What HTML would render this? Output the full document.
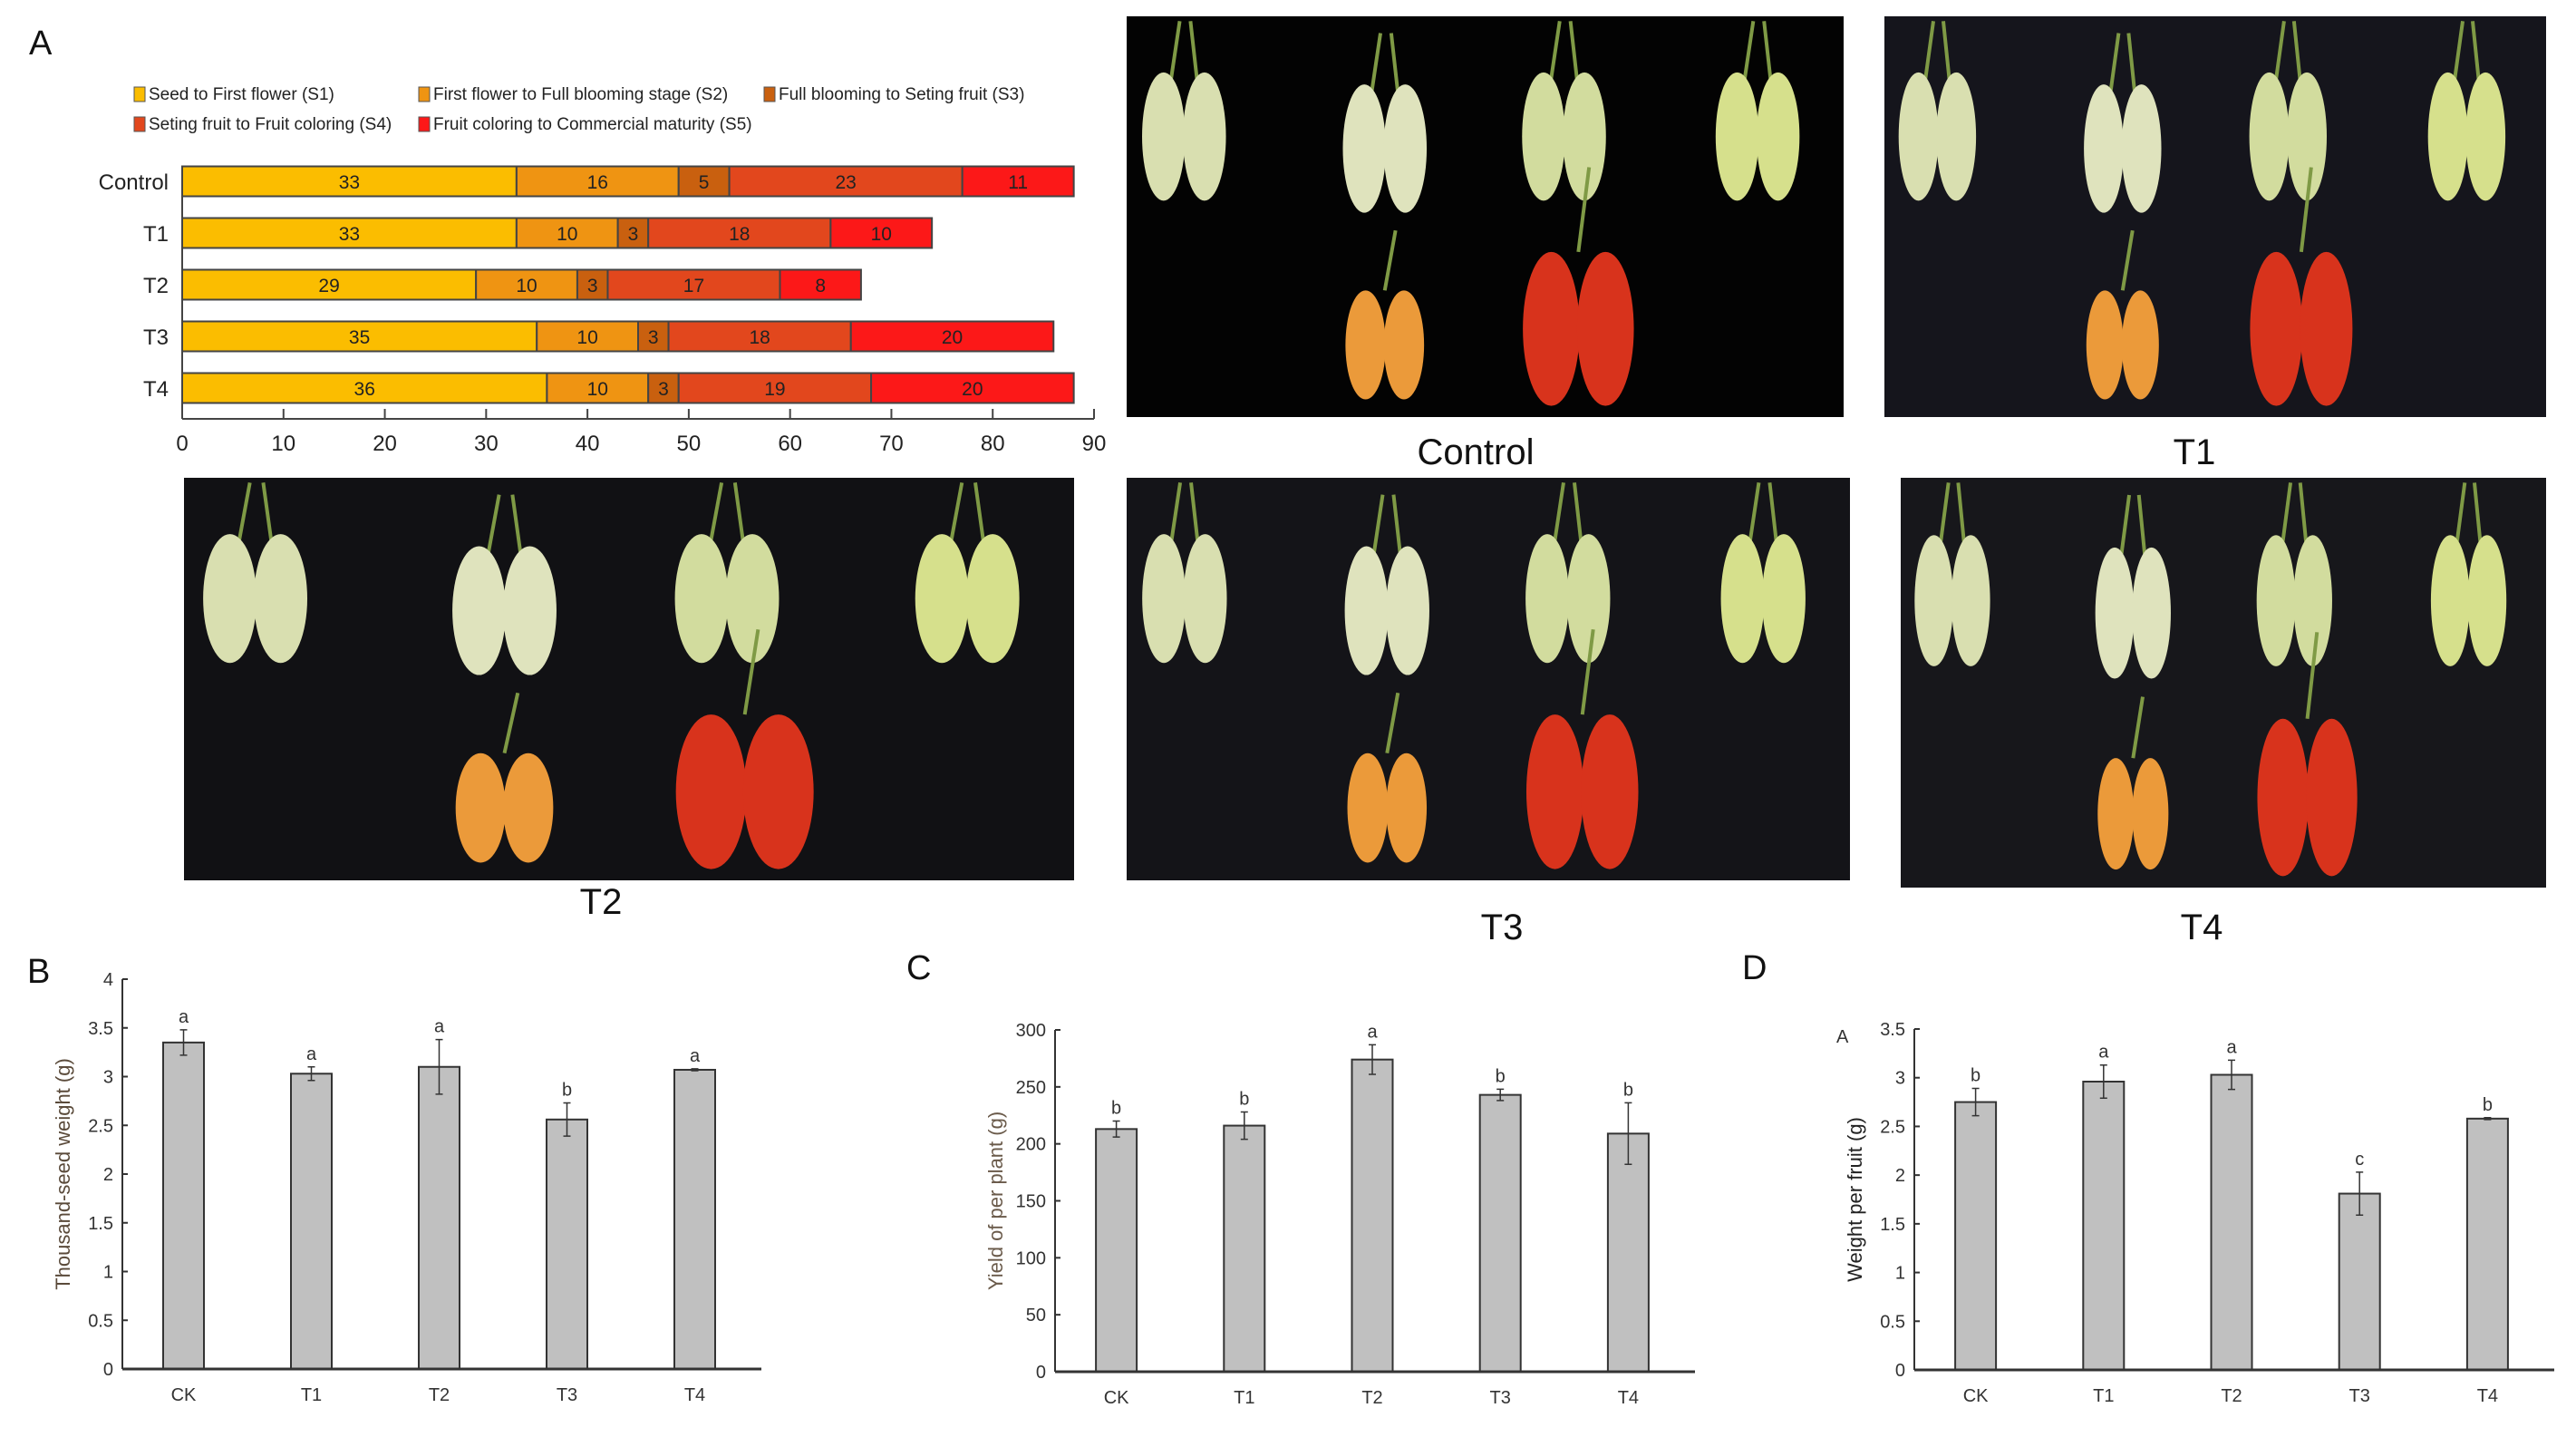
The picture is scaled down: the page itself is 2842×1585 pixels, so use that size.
<!DOCTYPE html>
<html><head><meta charset="utf-8">
<style>
html,body{margin:0;padding:0;background:#fff;}
svg{display:block;font-family:"Liberation Sans",sans-serif;}
</style></head>
<body>
<svg id="fig" width="2842" height="1585" viewBox="0 0 2842 1585" xmlns="http://www.w3.org/2000/svg">
<rect width="2842" height="1585" fill="#fff"/>
<g id="chartA"></g>
<g id="photos"></g>
<g id="chartB"></g>
<g id="chartC"></g>
<g id="chartD"></g>
</svg>
<script>
// ---- Chart A data ----
const aCategories = ["Control","T1","T2","T3","T4"];
const aS1 = [33,33,29,35,36];
const aS2 = [16,10,10,10,10];
const aS3 = [5,3,3,3,3];
const aS4 = [23,18,17,18,19];
const aS5 = [11,10,8,20,20];
const aTicks = [0,10,20,30,40,50,60,70,80,90];
const aStageNames = ["Seed to First flower (S1)","First flower to Full blooming stage (S2)","Full blooming to Seting fruit (S3)","Seting fruit to Fruit coloring (S4)","Fruit coloring to Commercial maturity (S5)"];

// ---- Chart B/C/D data ----
const groups = ["CK","T1","T2","T3","T4"];
const bValues = [3.35,3.03,3.10,2.56,3.07];
const bErrors = [0.13,0.07,0.28,0.17,0.01];
const bLetters = ["a","a","a","b","a"];
const bTicks = [0,0.5,1,1.5,2,2.5,3,3.5,4];
const cValues = [213,216,274,243,209];
const cErrors = [7,12,13,5,27];
const cLetters = ["b","b","a","b","b"];
const cTicks = [0,50,100,150,200,250,300];
const dValues = [2.75,2.96,3.03,1.81,2.58];
const dErrors = [0.14,0.17,0.15,0.22,0.01];
const dLetters = ["b","a","a","c","b"];
const dTicks = [0,0.5,1,1.5,2,2.5,3,3.5];

const NS="http://www.w3.org/2000/svg";
function mk(tag,attrs,parent,text){const e=document.createElementNS(NS,tag);for(const k in attrs)e.setAttribute(k,attrs[k]);if(text!==undefined)e.textContent=text;parent.appendChild(e);return e;}

// ---- Chart A ----
(function(){
  const g=document.getElementById('chartA');
  const colors=["#fbbd00","#ef9412","#c9600f","#e2471d","#fc1818"];
  const x0=201,x90=1207; const xs=v=>x0+(x90-x0)*v/90;
  const yTop=200, step=57, bh=33;
  const t=mk('text',{x:32,y:60,'font-size':38,fill:'#111'},g,'A');
  
  const legPos=[[148,110],[462,110],[843,110],[148,143],[462,143]];
  aStageNames.forEach((n,i)=>{
    const lg=mk('g',{},g);
    
    
    mk('rect',{x:legPos[i][0],y:legPos[i][1]-14,width:12,height:16,fill:colors[i],stroke:'#555','stroke-width':1},lg);
    mk('text',{x:legPos[i][0]+16,y:legPos[i][1],'font-size':19,fill:'#222'},lg,n);
  });
  const series=[aS1,aS2,aS3,aS4,aS5];
  aCategories.forEach((c,i)=>{
    const yc=yTop+i*step;
    const lab=mk('text',{x:186,y:yc+9,'font-size':24,'text-anchor':'end',fill:'#222'},g,c);
    
    
    let acc=0;
    series.forEach((s,k)=>{
      const v=s[i];
      const r=mk('rect',{x:xs(acc),y:yc-bh/2,width:xs(acc+v)-xs(acc),height:bh,fill:colors[k],stroke:'#444','stroke-width':2},g);
      
      
      const tv=mk('text',{x:(xs(acc)+xs(acc+v))/2,y:yc+8,'font-size':21,'text-anchor':'middle',fill:'#222'},g,String(v));
      
      
      acc+=v;
    });
  });
  const ax=mk('line',{x1:x0,y1:185,x2:x0,y2:462,stroke:'#444','stroke-width':2},g);
  
  const xa=mk('line',{x1:x0,y1:462,x2:x90,y2:462,stroke:'#444','stroke-width':2},g);
  
  aTicks.forEach(v=>{
    mk('line',{x1:xs(v),y1:462,x2:xs(v),y2:451,stroke:'#444','stroke-width':2},g);
    const tl=mk('text',{x:xs(v),y:497,'font-size':24,'text-anchor':'middle',fill:'#222'},g,String(v));
    
    
  });
})();

// ---- Photos ----
(function(){
  const g=document.getElementById('photos');
  const photos=[
    {n:'control',x:1243,y:18,w:791,h:442,bg:'#030303',label:'Control',lx:1628,ly:512},
    {n:'t1',x:2079,y:18,w:730,h:442,bg:'#15151c',label:'T1',lx:2421,ly:512},
    {n:'t2',x:203,y:527,w:982,h:444,bg:'#111114',label:'T2',lx:663,ly:1008},
    {n:'t3',x:1243,y:527,w:798,h:444,bg:'#141418',label:'T3',lx:1657,ly:1036},
    {n:'t4',x:2097,y:527,w:712,h:452,bg:'#17171b',label:'T4',lx:2429,ly:1036}
  ];
  const tops=[[.08,.3],[.36,.33],[.61,.3],[.88,.3]];
  const topCol=['#d9dfb0','#dfe3bd','#d2dc9e','#d6e08c'];
  photos.forEach(p=>{
    const pg=mk('g',{},g);
    
    
    mk('rect',{x:p.x,y:p.y,width:p.w,height:p.h,fill:p.bg},pg);
    const rw=p.w*0.03, rh=p.h*0.16;
    tops.forEach((t,i)=>{
      const cx=p.x+p.w*t[0], cy=p.y+p.h*t[1];
      mk('line',{x1:cx-rw*0.6,y1:cy-rh*0.9,x2:cx-rw*0.2,y2:cy-rh*1.8,stroke:'#7f9a45','stroke-width':4},pg);
      mk('line',{x1:cx+rw*0.6,y1:cy-rh*0.9,x2:cx+rw*0.3,y2:cy-rh*1.8,stroke:'#7f9a45','stroke-width':4},pg);
      mk('ellipse',{cx:cx-rw*0.95,cy:cy,rx:rw,ry:rh,fill:topCol[i]},pg);
      mk('ellipse',{cx:cx+rw*0.95,cy:cy,rx:rw,ry:rh,fill:topCol[i]},pg);
    });
    const bots=[[.36,.82,'#eb9a3a',0.85],[.63,.78,'#d8331c',1.2]];
    bots.forEach(b=>{
      const cx=p.x+p.w*b[0], cy=p.y+p.h*b[1], s=b[3];
      mk('line',{x1:cx,y1:cy-rh*s,x2:cx+rw*0.5,y2:cy-rh*2.1*s,stroke:'#7f9a45','stroke-width':4},pg);
      mk('ellipse',{cx:cx-rw*1.05*s,cy:cy,rx:rw*1.1*s,ry:rh*s,fill:b[2]},pg);
      mk('ellipse',{cx:cx+rw*1.05*s,cy:cy,rx:rw*1.1*s,ry:rh*s,fill:b[2]},pg);
    });
    const l=mk('text',{x:p.lx,y:p.ly,'font-size':40,'text-anchor':'middle',fill:'#111'},g,p.label);
    
    
  });
})();

// ---- Bar charts ----
function barChart(id,cfg,values,errors,letters,ticks){
  const g=document.getElementById(id);
  const ys=v=>cfg.y0-(cfg.y0-cfg.yTopPx)*(v-0)/(cfg.max);
  const pl=mk('text',{x:cfg.lx,y:cfg.ly,'font-size':38,fill:'#111'},g,cfg.label);
  
  
  const ya=mk('line',{x1:cfg.ax,y1:ys(ticks[ticks.length-1]),x2:cfg.ax,y2:cfg.y0,stroke:'#333','stroke-width':2},g);
  
  ticks.forEach(v=>{
    mk('line',{x1:cfg.ax,y1:ys(v),x2:cfg.ax+6,y2:ys(v),stroke:'#333','stroke-width':2},g);
    const tl=mk('text',{x:cfg.ax-10,y:ys(v)+7,'font-size':20,'text-anchor':'end',fill:'#333'},g,String(v));
    
    
  });
  const yt=mk('text',{transform:`translate(${cfg.ax-58},${(cfg.y0+cfg.yTopPx)/2}) rotate(-90)`,'font-size':22,'text-anchor':'middle',fill:cfg.titleColor},g,cfg.title);
  
  
  const bw=45, stepX=(cfg.xEnd-cfg.ax)/5;
  groups.forEach((c,i)=>{
    const cx=cfg.ax+stepX*(i+0.5)-3;
    const b=mk('rect',{x:cx-bw/2,y:ys(values[i]),width:bw,height:cfg.y0-ys(values[i]),fill:'#c0c0c0',stroke:'#333','stroke-width':2},g);
    
    
    const e1=ys(values[i]+errors[i]), e2=ys(values[i]-errors[i]);
    const eb=mk('path',{d:`M${cx},${e1}V${e2}M${cx-4},${e1}H${cx+4}M${cx-4},${e2}H${cx+4}`,stroke:'#333','stroke-width':1.5,fill:'none'},g);
    
    
    const lt=mk('text',{x:cx,y:e1-8,'font-size':20,'text-anchor':'middle',fill:'#333'},g,letters[i]);
    
    
    const xl=mk('text',{x:cx,y:cfg.y0+35,'font-size':20,'text-anchor':'middle',fill:'#333'},g,c);
    
    
  });
  const xa=mk('line',{x1:cfg.ax,y1:cfg.y0,x2:cfg.xEnd,y2:cfg.y0,stroke:'#333','stroke-width':3},g);
  
}
barChart('chartB',{ax:135,y0:1510,yTopPx:1080,max:4,xEnd:840,label:'B',lx:30,ly:1084,title:'Thousand-seed weight (g)',titleColor:'#5a4a3a'},bValues,bErrors,bLetters,bTicks);
barChart('chartC',{ax:1164,y0:1513,yTopPx:1136,max:300,xEnd:1870,label:'C',lx:1000,ly:1080,title:'Yield of per plant (g)',titleColor:'#6a5a4a'},cValues,cErrors,cLetters,cTicks);
barChart('chartD',{ax:2112,y0:1511,yTopPx:1135,max:3.5,xEnd:2818,label:'D',lx:1922,ly:1080,title:'Weight per fruit (g)',titleColor:'#222'},dValues,dErrors,dLetters,dTicks);
(function(){const g=document.getElementById('chartD');const t=mk('text',{x:2026,y:1150,'font-size':20,fill:'#333'},g,'A');})();
</script>
</body></html>
